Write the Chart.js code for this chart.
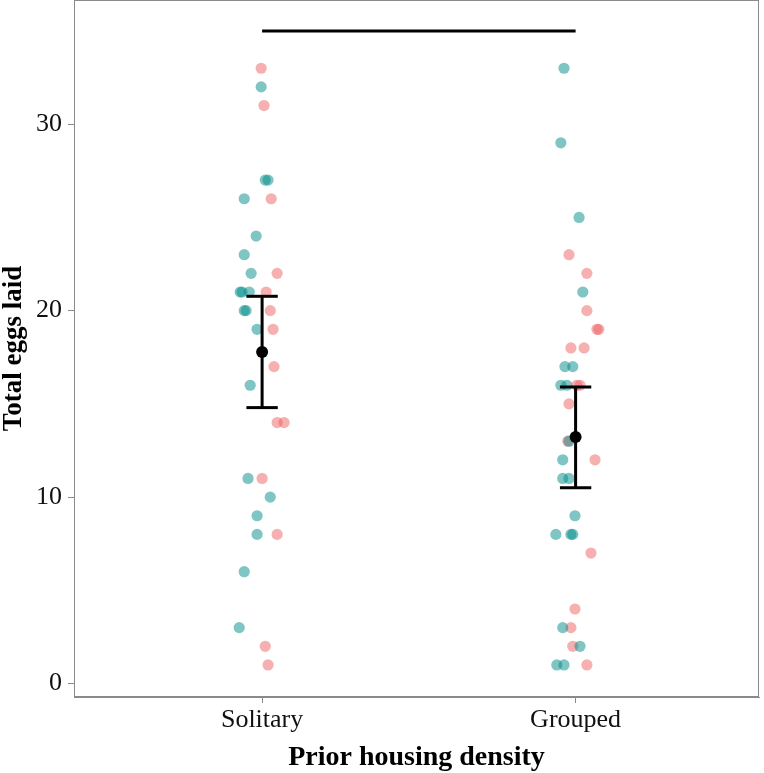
<!DOCTYPE html>
<html>
<head>
<meta charset="utf-8">
<script src="https://cdn.jsdelivr.net/npm/chart.js@4"></script>
<style>
    html, body { margin: 0; padding: 0; background: #fff; }
    #wrap { width: 764px; height: 773px; }
</style>
</head>
<body>
<div id="wrap"><canvas id="eggsChart" width="764" height="773"></canvas></div>
<script>
const groups = ['Solitary', 'Grouped'];
const yTicks = [0, 10, 20, 30];

// eggs per female; jitter is horizontal offset in category units
const solTealEggs = [32, 27, 27, 26, 24, 23, 22, 21, 21, 21, 20, 20, 19, 16, 11, 10, 9, 8, 6, 3];
const solTealJitter = [-0.003, 0.010, 0.019, -0.057, -0.019, -0.057, -0.035, -0.070, -0.064, -0.041, -0.057, -0.051, -0.016, -0.038, -0.045, 0.026, -0.016, -0.016, -0.057, -0.073];
const solPinkEggs = [33, 31, 26, 22, 21, 20, 19, 17, 14, 14, 11, 8, 2, 1];
const solPinkJitter = [-0.003, 0.006, 0.029, 0.048, 0.013, 0.026, 0.035, 0.038, 0.048, 0.070, 0.0, 0.048, 0.010, 0.019];
const grpTealEggs = [33, 29, 25, 21, 17, 17, 16, 16, 13, 12, 11, 11, 9, 8, 8, 8, 3, 2, 1, 1];
const grpTealJitter = [-0.037, -0.047, 0.011, 0.023, -0.034, -0.009, -0.047, -0.028, -0.021, -0.041, -0.041, -0.021, -0.002, -0.063, -0.015, -0.009, -0.041, 0.014, -0.060, -0.037];
const grpPinkEggs = [23, 22, 20, 19, 19, 18, 18, 16, 16, 15, 13, 12, 7, 4, 3, 2, 1];
const grpPinkJitter = [-0.021, 0.036, 0.036, 0.068, 0.074, -0.015, 0.027, 0.004, 0.014, -0.021, -0.025, 0.062, 0.049, -0.002, -0.015, -0.009, 0.036];

const meanEggs = [17.78, 13.22];
const ciLow = [14.8, 10.5];
const ciHigh = [20.77, 15.9];
const sigBarY = 35;
const capWidth = 0.1;

const TEAL = 'rgba(0, 140, 138, 0.5)';
const PINK = 'rgba(236, 90, 90, 0.48)';
const AXIS_GREY = '#8a8a8a';
const SERIF = '"Liberation Serif", "DejaVu Serif", serif';

function toPoints(groupIdx, eggs, jitter) {
    return eggs.map((v, i) => ({ x: groupIdx + 1 + jitter[i], y: v }));
}

function pointSet(data, color) {
    return {
        type: 'scatter',
        data: data,
        backgroundColor: color,
        borderWidth: 0,
        pointRadius: 5.6,
        order: 2
    };
}

function blackLine(data) {
    return {
        type: 'line',
        data: data,
        borderColor: '#000',
        borderWidth: 3,
        pointRadius: 0,
        fill: false,
        order: 0
    };
}

const datasets = [
    pointSet(toPoints(0, solTealEggs, solTealJitter), TEAL),
    pointSet(toPoints(0, solPinkEggs, solPinkJitter), PINK),
    pointSet(toPoints(1, grpTealEggs, grpTealJitter), TEAL),
    pointSet(toPoints(1, grpPinkEggs, grpPinkJitter), PINK)
];

// error bars: stem + two caps per group
groups.forEach((g, i) => {
    const x = i + 1;
    datasets.push(blackLine([{ x: x, y: ciLow[i] }, { x: x, y: ciHigh[i] }]));
    datasets.push(blackLine([{ x: x - capWidth / 2, y: ciHigh[i] }, { x: x + capWidth / 2, y: ciHigh[i] }]));
    datasets.push(blackLine([{ x: x - capWidth / 2, y: ciLow[i] }, { x: x + capWidth / 2, y: ciLow[i] }]));
});

// group means
datasets.push({
    type: 'scatter',
    data: meanEggs.map((m, i) => ({ x: i + 1, y: m })),
    backgroundColor: '#000',
    borderWidth: 0,
    pointRadius: 6,
    order: 0
});

// comparison bar across the top
datasets.push(blackLine([{ x: 1, y: sigBarY }, { x: 2, y: sigBarY }]));

const panelBorder = {
    id: 'panelBorder',
    afterDraw(chart) {
        const a = chart.chartArea;
        const ctx = chart.ctx;
        ctx.save();
        ctx.strokeStyle = AXIS_GREY;
        ctx.lineWidth = 1;
        ctx.strokeRect(a.left + 0.5, a.top + 0.5, a.right - a.left - 1, a.bottom - a.top - 1);
        ctx.restore();
    }
};

function drawChart() {
    const ctx = document.getElementById('eggsChart').getContext('2d');
    new Chart(ctx, {
        data: { datasets: datasets },
        options: {
            responsive: false,
            animation: false,
            layout: { autoPadding: false, padding: { top: 0, right: 5, bottom: 0, left: 0 } },
            plugins: {
                legend: { display: false },
                tooltip: { enabled: false }
            },
            scales: {
                x: {
                    type: 'linear',
                    min: 0.4,
                    max: 2.585,
                    afterBuildTicks: (scale) => { scale.ticks = groups.map((g, i) => ({ value: i + 1 })); },
                    afterFit: (scale) => {
                        scale.height = 76;
                        scale.paddingLeft = 0;
                        scale.paddingRight = 0;
                    },
                    ticks: {
                        callback: (v) => groups[v - 1],
                        color: '#111',
                        padding: 2,
                        maxRotation: 0,
                        font: { family: SERIF, size: 26 }
                    },
                    grid: { drawOnChartArea: false, drawTicks: true, tickLength: 6, color: AXIS_GREY },
                    border: { display: true, color: AXIS_GREY },
                    title: {
                        display: true,
                        text: 'Prior housing density',
                        color: '#000',
                        padding: 0,
                        font: { family: SERIF, size: 28, weight: 'bold', lineHeight: 1.1 }
                    }
                },
                y: {
                    type: 'linear',
                    min: -0.72,
                    max: 36.66,
                    afterBuildTicks: (scale) => { scale.ticks = yTicks.map(v => ({ value: v })); },
                    afterFit: (scale) => {
                        scale.width = 74;
                        scale.paddingTop = 0;
                        scale.paddingBottom = 0;
                    },
                    ticks: {
                        color: '#111',
                        padding: 6,
                        font: { family: SERIF, size: 26 }
                    },
                    grid: { drawOnChartArea: false, drawTicks: true, tickLength: 6, color: AXIS_GREY },
                    border: { display: true, color: AXIS_GREY },
                    title: {
                        display: true,
                        text: 'Total eggs laid',
                        color: '#000',
                        padding: 0,
                        font: { family: SERIF, size: 27, weight: 'bold', lineHeight: 1.05 }
                    }
                }
            }
        },
        plugins: [panelBorder]
    });
}

document.addEventListener('DOMContentLoaded', drawChart);
</script>
</body>
</html>
